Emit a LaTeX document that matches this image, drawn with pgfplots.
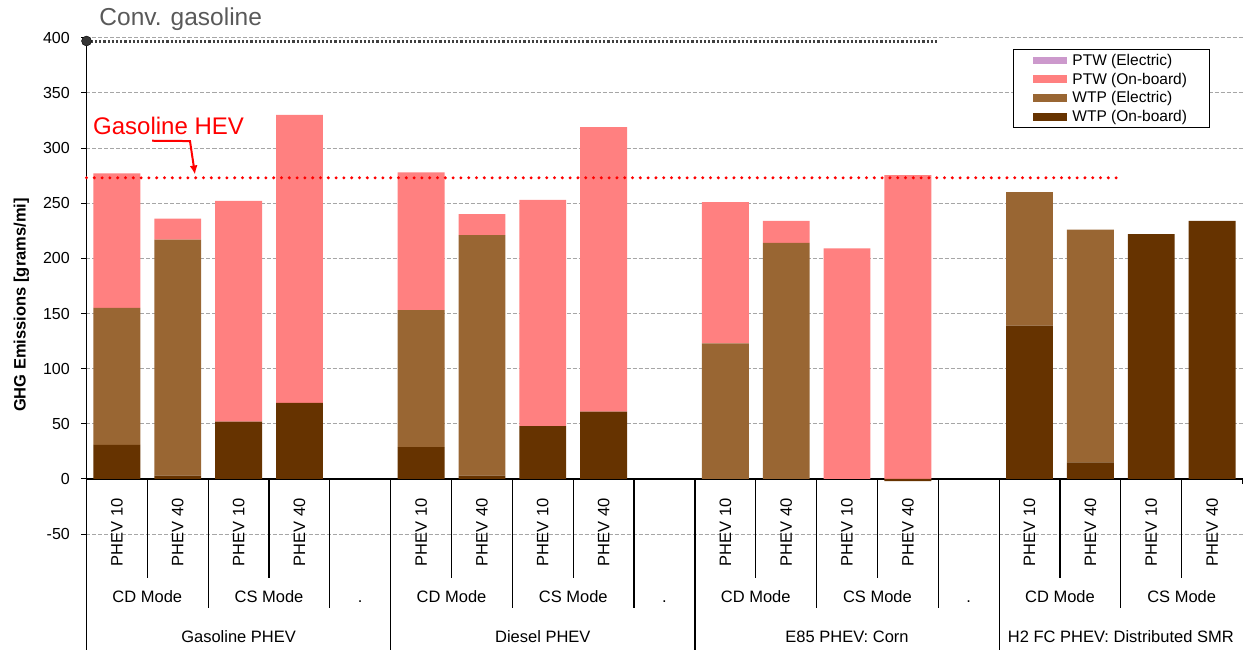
\documentclass[border=0pt]{standalone}
\usepackage{pgfplots}
\pgfplotsset{compat=1.18}
\usepackage{pgfplotstable}
\usepackage{fontspec}
\setmainfont{Liberation Sans}
\usetikzlibrary{arrows.meta}

\definecolor{ptwel}{HTML}{CC99CC}
\definecolor{ptwob}{HTML}{FF8080}
\definecolor{wtpel}{HTML}{996633}
\definecolor{wtpob}{HTML}{663300}
\definecolor{gridc}{HTML}{A6A6A6}
\definecolor{convc}{HTML}{404040}
\definecolor{titlec}{HTML}{595959}

\pgfplotstableread{
x wtpob wtpel ptwob ptwel
0 31 124 122 0
1 3 214 19 0
2 52 0 200 0
3 69 0 261 0
4 0 0 0 0
5 29 124 125 0
6 3 218 19 0
7 48 0 205 0
8 61 0 258 0
9 0 0 0 0
10 0 123 128 0
11 0 214 20 0
12 0 0 209 0
13 -2 0 275.5 0
14 0 0 0 0
15 139 121 0 0
16 15 211 0 0
17 222 0 0 0
18 234 0 0 0
}\datatable

\pgfplotstableread{
x y
-0.5 273
16.5 273
}\hevline

\pgfplotstableread{
x y
-0.5 397
13.48 397
}\convline

\pgfplotsset{base/.style={at={(0,0)}, anchor=south west, scale only axis,
  width=1156pt, height=612.3pt, xmin=-0.5, xmax=18.5, ymin=-155, ymax=400, clip=false}}

\begin{document}
\begin{tikzpicture}
\begin{axis}[base,
  ybar stacked, bar width=0.77,
  axis x line*=middle, axis y line*=left,
  ytick={-50,0,...,400},
  xtick={0,...,18},
  xticklabels={PHEV 10,PHEV 40,PHEV 10,PHEV 40,{},PHEV 10,PHEV 40,PHEV 10,PHEV 40,{},PHEV 10,PHEV 40,PHEV 10,PHEV 40,{},PHEV 10,PHEV 40,PHEV 10,PHEV 40},
  xtick style={draw=none},
  ytick style={black, line width=1pt},
  tick align=outside, major tick length=5pt,
  ymajorgrids, major grid style={gridc, line width=0.9pt, dash pattern=on 4pt off 2pt},
  axis line style={black, line width=1.3pt},
  /pgf/number format/assume math mode=true,
  yticklabel style={font=\fontsize{16}{19}\selectfont, black, inner sep=0pt},
  yticklabel shift=11.5pt,
  xticklabel style={font=\fontsize{16.5}{19}\selectfont, rotate=90, anchor=east, inner sep=0pt},
  xticklabel shift=14pt,
  ylabel={GHG Emissions [grams/mi]},
  every axis y label/.style={at={(rel axis cs:-0.05623,0.5634)}, rotate=90, anchor=center,
     font=\bfseries\fontsize{16.5}{19}\selectfont},
  legend style={at={(0.8011,0.9811)}, anchor=north west, draw=black, line width=0.8pt,
     fill=white, font=\fontsize{15.5}{18}\selectfont, inner xsep=20pt, inner ysep=2.5pt,
     row sep=2pt, nodes={inner sep=2pt},
     /tikz/every odd column/.append style={column sep=3.5pt}},
  legend cell align=left,
  reverse legend,
  legend image code/.code={\fill[#1] (0pt,-3.85pt) rectangle (34pt,3.85pt);},
]
\addplot[fill=wtpob, draw=none] table[x=x, y=wtpob] {\datatable};
\addplot[fill=wtpel, draw=none] table[x=x, y=wtpel] {\datatable};
\addplot[fill=ptwob, draw=none] table[x=x, y=ptwob] {\datatable};
\addplot[fill=ptwel, draw=none] table[x=x, y=ptwel] {\datatable};
\legend{WTP (On-board), WTP (Electric), PTW (On-board), PTW (Electric)}
\end{axis}

\begin{axis}[base, hide axis]
\addplot[convc, line width=3pt, dash pattern=on 2.2pt off 2pt] table[x=x, y=y] {\convline};
\addplot[only marks, mark=*, mark size=5pt, mark options={fill=convc!85!black, draw=none}] coordinates {(-0.5,397)};
\addplot[red, line width=3.3pt, line cap=round, dash pattern=on 0pt off 7.8pt] table[x=x, y=y] {\hevline};
% separators
\draw[black, line width=1.2pt] (0.5,0) -- (0.5,-89.7) (2.5,0) -- (2.5,-89.7) (5.5,0) -- (5.5,-89.7) (7.5,0) -- (7.5,-89.7) (10.5,0) -- (10.5,-89.7) (12.5,0) -- (12.5,-89.7) (15.5,0) -- (15.5,-89.7) (17.5,0) -- (17.5,-89.7);
\draw[black, line width=1.2pt] (1.5,0) -- (1.5,-116.9) (3.5,0) -- (3.5,-116.9) (6.5,0) -- (6.5,-116.9) (8.5,0) -- (8.5,-116.9) (11.5,0) -- (11.5,-116.9) (13.5,0) -- (13.5,-116.9) (16.5,0) -- (16.5,-116.9);
\draw[black, line width=1.2pt] (4.5,0) -- (4.5,-155) (9.5,0) -- (9.5,-155) (14.5,0) -- (14.5,-155) (18.5,0) -- (18.5,-4.5);
% category labels
\begin{scope}[every node/.style={font=\fontsize{16.5}{19}\selectfont, anchor=base, inner sep=0pt}]
\node at (0.5,-112.1) {CD Mode};
\node at (2.5,-112.1) {CS Mode};
\node at (4,-112.1) {.};
\node at (5.5,-112.1) {CD Mode};
\node at (7.5,-112.1) {CS Mode};
\node at (9,-112.1) {.};
\node at (10.5,-112.1) {CD Mode};
\node at (12.5,-112.1) {CS Mode};
\node at (14,-112.1) {.};
\node at (15.5,-112.1) {CD Mode};
\node at (17.5,-112.1) {CS Mode};
\node at (2,-148.4) {Gasoline PHEV};
\node at (7,-148.4) {Diesel PHEV};
\node at (12,-148.4) {E85 PHEV:\ Corn};
\node at (16.5,-148.4) {H2 FC PHEV:\ Distributed SMR};
\end{scope}
\node[anchor=base west, inner sep=0pt, text=titlec, font=\fontsize{24.5}{29}\selectfont] at (-0.29,410.6) {Conv. gasoline};
\node[anchor=base west, inner sep=0pt, text=red, font=\fontsize{24}{29}\selectfont] at (-0.393,311.8) {Gasoline HEV};
\draw[red, line width=2pt, -{Latex[length=9pt, width=8pt]}] (0.577,306.6) -- (1.201,306.3) -- (1.283,276);
\end{axis}
\pgfresetboundingbox
\path[use as bounding box] (-86.5pt,0pt) rectangle (1157.5pt,650pt);
\end{tikzpicture}
\end{document}
